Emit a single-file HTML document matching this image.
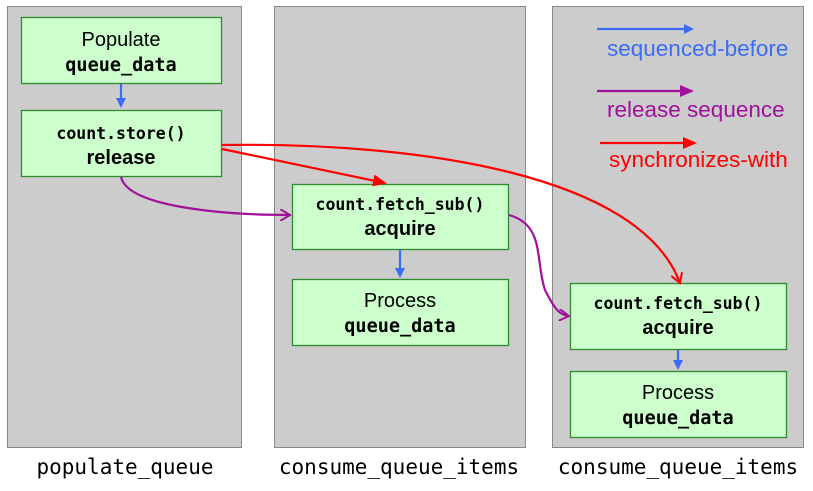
<!DOCTYPE html>
<html><head><meta charset="utf-8"><style>
html,body{margin:0;padding:0;background:#fff;width:813px;height:491px;overflow:hidden}
</style></head><body>
<svg width="813" height="491" viewBox="0 0 813 491" xmlns="http://www.w3.org/2000/svg">
<defs>
<marker id="b" markerWidth="10" markerHeight="10" refX="8" refY="5" orient="auto" markerUnits="userSpaceOnUse"><path d="M0,0 L10,5 L0,10 Z" fill="#3b6cf5"/></marker>
<marker id="r" markerWidth="14" markerHeight="12" refX="12" refY="6" orient="auto" markerUnits="userSpaceOnUse"><path d="M0,0 L14,6 L0,12 Z" fill="#ff0000"/></marker>
<marker id="p" markerWidth="14" markerHeight="12" refX="12" refY="6" orient="auto" markerUnits="userSpaceOnUse"><path d="M0,0 L14,6 L0,12 Z" fill="#a0109a"/></marker>
<marker id="ro" markerWidth="12" markerHeight="12" refX="10" refY="6" orient="auto" markerUnits="userSpaceOnUse"><path d="M0,0 L10,6 L0,12" fill="none" stroke="#ff0000" stroke-width="2"/></marker>
<marker id="po" markerWidth="12" markerHeight="12" refX="10" refY="6" orient="auto" markerUnits="userSpaceOnUse"><path d="M0,0 L10,6 L0,12" fill="none" stroke="#a0109a" stroke-width="2"/></marker>
</defs>
<g fill="#cccccc" stroke="#888" stroke-width="1">
<rect x="7.5" y="6.5" width="234" height="441"/>
<rect x="274.5" y="6.5" width="251" height="441"/>
<rect x="552.5" y="6.5" width="251" height="441"/>
</g>
<g fill="#ccffcc" stroke="#2e8b2e" stroke-width="1.3">
<rect x="21.5" y="17.5" width="200" height="66"/>
<rect x="21.5" y="110.5" width="200" height="66"/>
<rect x="292.5" y="184.5" width="216" height="65"/>
<rect x="292.5" y="279.5" width="216" height="66"/>
<rect x="570.5" y="283.5" width="216" height="66"/>
<rect x="570.5" y="371.5" width="216" height="66"/>
</g>
<g font-family="Liberation Sans, sans-serif" text-anchor="middle" fill="#000">
<text x="121" y="46" font-size="20">Populate</text>
<text x="121" y="71" font-size="18.5" font-family="DejaVu Sans Mono, monospace" font-weight="bold">queue_data</text>
<text x="121" y="139" font-size="16.5" font-family="DejaVu Sans Mono, monospace" font-weight="bold">count.store()</text>
<text x="121" y="164" font-size="20" font-weight="bold">release</text>
<text x="400" y="210" font-size="16.5" font-family="DejaVu Sans Mono, monospace" font-weight="bold">count.fetch_sub()</text>
<text x="400" y="235" font-size="20" font-weight="bold">acquire</text>
<text x="400" y="307" font-size="20">Process</text>
<text x="400" y="332" font-size="18.5" font-family="DejaVu Sans Mono, monospace" font-weight="bold">queue_data</text>
<text x="678" y="309" font-size="16.5" font-family="DejaVu Sans Mono, monospace" font-weight="bold">count.fetch_sub()</text>
<text x="678" y="334" font-size="20" font-weight="bold">acquire</text>
<text x="678" y="399" font-size="20">Process</text>
<text x="678" y="424" font-size="18.5" font-family="DejaVu Sans Mono, monospace" font-weight="bold">queue_data</text>
<g font-family="DejaVu Sans Mono, Liberation Mono, monospace" font-size="21">
<text x="125" y="474">populate_queue</text>
<text x="399" y="474">consume_queue_items</text>
<text x="678" y="474">consume_queue_items</text>
</g>
</g>
<g fill="none" stroke-width="2.2">
<line x1="121" y1="84" x2="121" y2="106" stroke="#3b6cf5" marker-end="url(#b)"/>
<line x1="400" y1="250" x2="400" y2="276" stroke="#3b6cf5" marker-end="url(#b)"/>
<line x1="678" y1="350" x2="678" y2="368" stroke="#3b6cf5" marker-end="url(#b)"/>
<line x1="222" y1="149" x2="385" y2="183" stroke="#ff0000" marker-end="url(#r)"/>
<path d="M222 145 C420 142 640 175 680 283" stroke="#ff0000" marker-end="url(#ro)"/>
<path d="M121 177 C128 208 230 215 290 215" stroke="#a0109a" marker-end="url(#po)"/>
<path d="M509 215 C545 225 535 260 545 290 C555 310 560 315 569 316" stroke="#a0109a" marker-end="url(#po)"/>
<line x1="597" y1="29" x2="692" y2="29" stroke="#3b6cf5" marker-end="url(#b)"/>
<line x1="597" y1="91" x2="692" y2="91" stroke="#a0109a" marker-end="url(#p)"/>
<line x1="600" y1="143" x2="695" y2="143" stroke="#ff0000" marker-end="url(#r)"/>
</g>
<g font-family="Liberation Sans, sans-serif" font-size="22.5">
<text x="607" y="56" fill="#3b6cf5">sequenced-before</text>
<text x="607" y="117" fill="#a0109a">release sequence</text>
<text x="609" y="167" fill="#ff0000">synchronizes-with</text>
</g>
</svg>
</body></html>
